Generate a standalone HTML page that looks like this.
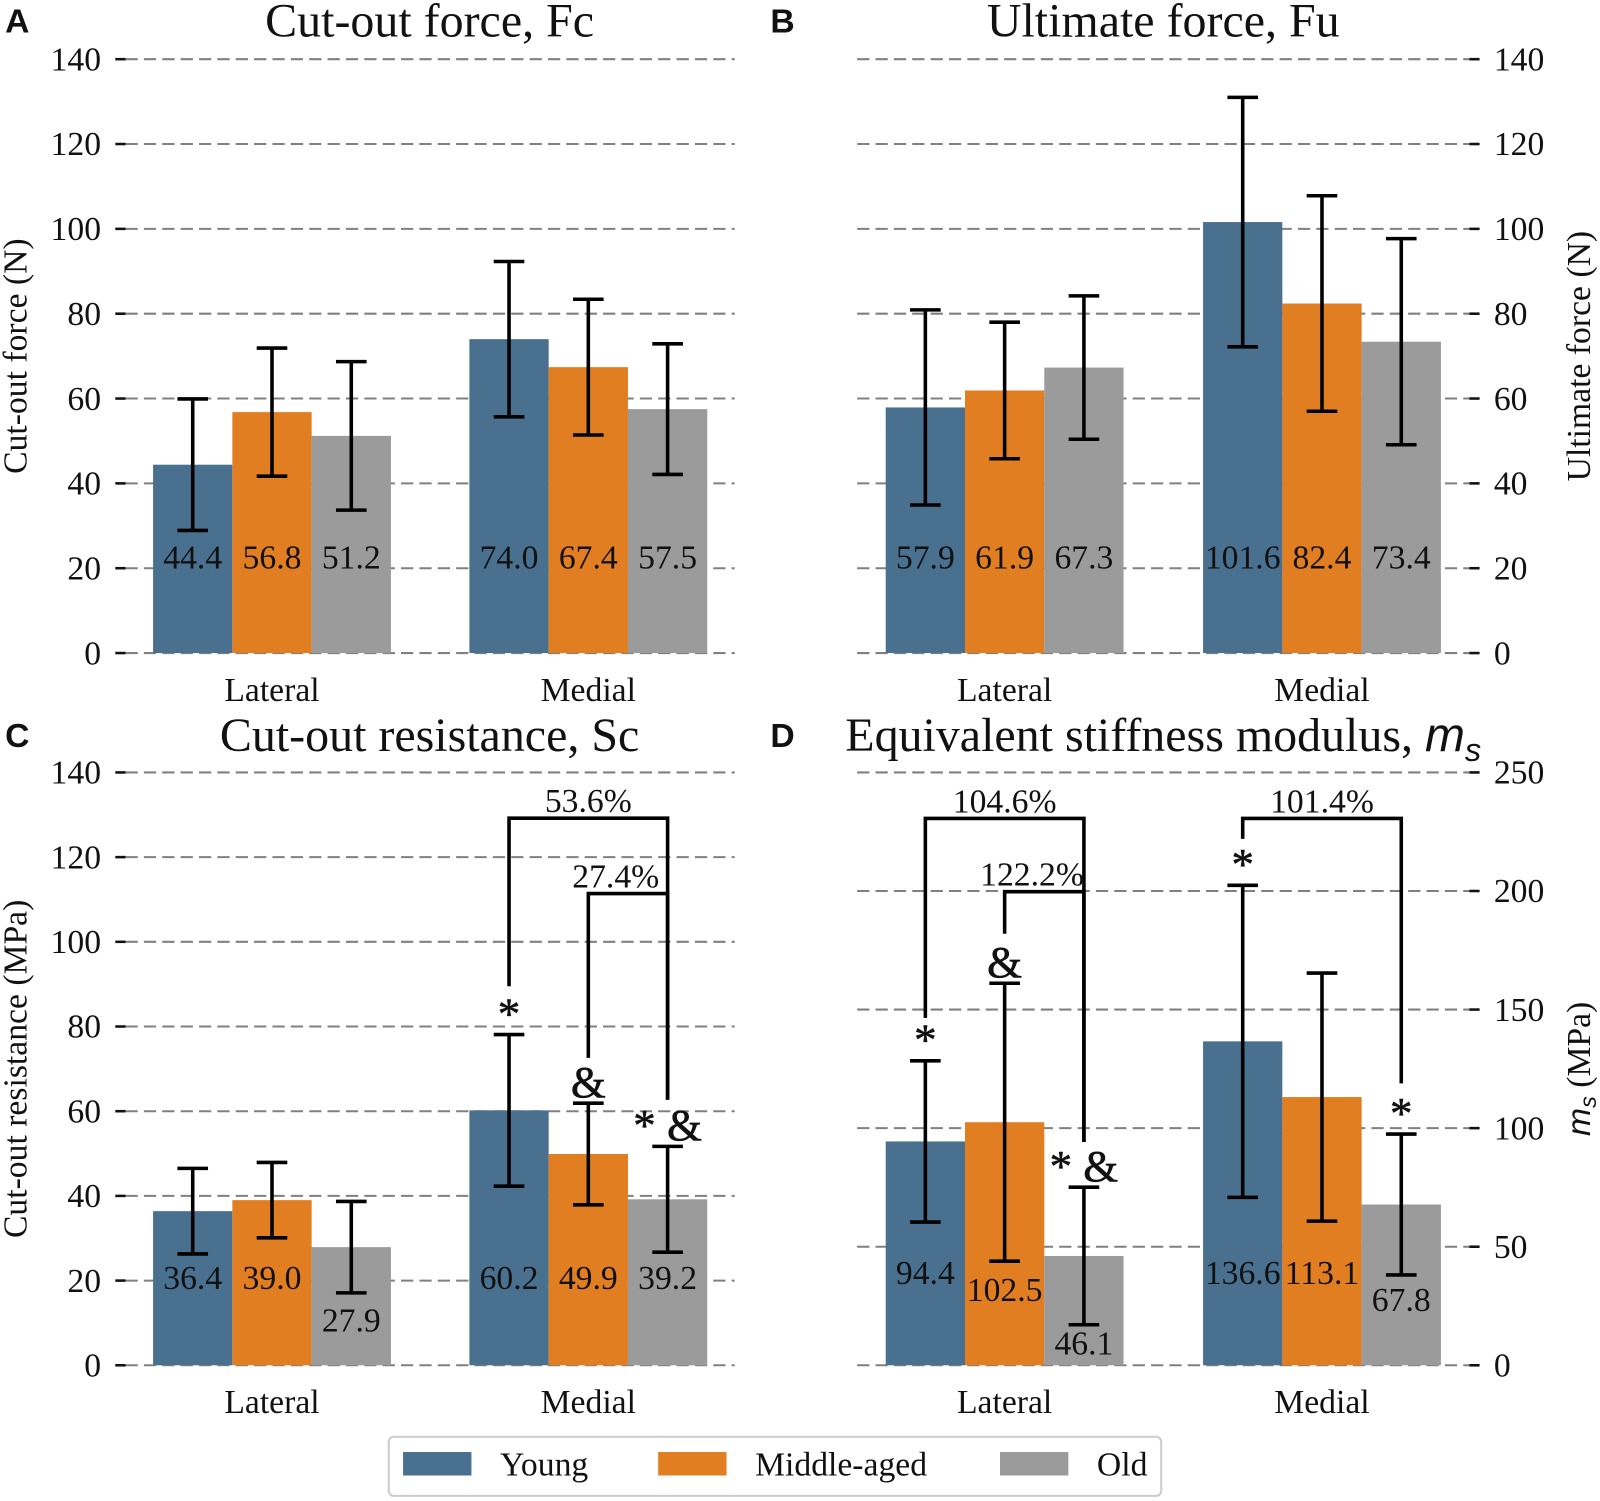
<!DOCTYPE html>
<html><head><meta charset="utf-8"><style>
html,body{margin:0;padding:0;background:#fff}
svg{display:block}
text{font-family:"Liberation Serif",serif;fill:#111}
.lt{font-family:"Liberation Sans",sans-serif;font-weight:bold}
</style></head><body>
<svg id="chart" width="1600" height="1501" viewBox="0 0 1568 1471" xmlns="http://www.w3.org/2000/svg"></svg>
<script>
const categories = ["Lateral", "Medial"];
const groups = ["Young", "Middle-aged", "Old"];
const colors = ["#4a7090", "#e27e22", "#9b9b9b"];
// Panel A: Cut-out force
const fcMeans = [[44.4, 56.8, 51.2], [74.0, 67.4, 57.5]];
const fcErr = [[15.5, 15.1, 17.5], [18.3, 16.0, 15.4]];
const fcLabelAt = [[22.6, 22.6, 22.6], [22.6, 22.6, 22.6]];
// Panel B: Ultimate force
const fuMeans = [[57.9, 61.9, 67.3], [101.6, 82.4, 73.4]];
const fuErr = [[23.0, 16.1, 16.9], [29.4, 25.4, 24.3]];
const fuLabelAt = [[22.6, 22.6, 22.6], [22.6, 22.6, 22.6]];
// Panel C: Cut-out resistance
const scMeans = [[36.4, 39.0, 27.9], [60.2, 49.9, 39.2]];
const scErr = [[10.1, 8.9, 10.8], [17.9, 12.0, 12.5]];
const scLabelAt = [[20.7, 20.7, 10.6], [20.7, 20.7, 20.7]];
// Panel D: Equivalent stiffness modulus
const msMeans = [[94.4, 102.5, 46.1], [136.6, 113.1, 67.8]];
const msErr = [[34.0, 58.6, 29.0], [65.8, 52.3, 29.7]];
const msLabelAt = [[39, 31.8, 9.2], [39, 39, 27.6]];
const ticksABC = [0, 20, 40, 60, 80, 100, 120, 140];
const ticksD = [0, 50, 100, 150, 200, 250];
// brackets: [group, barFrom, barTo, level, fromBottom, toBottom, label]
const scBrackets = [[1, 0, 2, 129.2, 89.5, 62.7, "53.6%"], [1, 1, 2, 111.4, 72.6, 62.7, "27.4%"]];
const msBrackets = [[0, 0, 2, 230.6, 146.5, 94.2, "104.6%"], [0, 1, 2, 199.7, 182, 94.2, "122.2%"], [1, 0, 2, 230.6, 222, 118.9, "101.4%"]];
// markers: [group, bar, text]
const scMarks = [[1, 0, "*"], [1, 1, "&"], [1, 2, "*  &"]];
const msMarks = [[0, 0, "*"], [0, 1, "&"], [0, 2, "*  &"], [1, 0, "*"], [1, 2, "*"]];

const NS = "http://www.w3.org/2000/svg";
const svg = document.getElementById("chart");
function el(tag, attrs, parent, txt) {
  const e = document.createElementNS(NS, tag);
  for (const k in attrs) e.setAttribute(k, attrs[k]);
  if (txt !== undefined) e.textContent = txt;
  (parent || svg).appendChild(e);
  return e;
}
const BW = 77.7;
const FS = 33;
function panel(cfg) {
  const g = el("g", {});
  
  
  const y = v => cfg.y0 - (v / cfg.max) * (cfg.y0 - cfg.yTop);
  const bx = (gi, bi) => cfg.groupX[gi] + bi * BW;
  cfg.ticks.forEach(t => {
    const gl = el("line", {x1: cfg.gx1, x2: cfg.gx2, y1: y(t), y2: y(t), stroke: "#808080", "stroke-width": 2, "stroke-dasharray": "12,6"}, g);
    
    
    const tx = cfg.right ? cfg.gx2 : cfg.gx1 - 10;
    el("line", {x1: tx, x2: tx + 10, y1: y(t), y2: y(t), stroke: "#111", "stroke-width": 2.5}, g);
    const lab = el("text", {x: cfg.right ? cfg.gx2 + 24 : cfg.gx1 - 24, y: y(t) + 11, "font-size": FS, "text-anchor": cfg.right ? "start" : "end"}, g, t);
    
    
  });
  categories.forEach((c, gi) => {
    const t = el("text", {x: cfg.groupX[gi] + 1.5 * BW, y: cfg.y0 + 47, "font-size": FS, "text-anchor": "middle"}, g, c);
    
    
    cfg.means[gi].forEach((m, bi) => {
      const r = el("rect", {x: bx(gi, bi), y: y(m), width: BW, height: y(0) - y(m), fill: colors[bi]}, g);
      
      
    });
  });
  categories.forEach((c, gi) => {
    cfg.means[gi].forEach((m, bi) => {
      const cx = bx(gi, bi) + BW / 2, e = cfg.err[gi][bi];
      const eb = el("path", {d: `M${cx},${y(m + e)}V${y(m - e)}M${cx - 15},${y(m + e)}H${cx + 15}M${cx - 15},${y(m - e)}H${cx + 15}`, stroke: "#000", "stroke-width": 3.5, fill: "none"}, g);
      
      
      const v = el("text", {x: cx, y: y(cfg.labelAt[gi][bi]) + 11, "font-size": FS, "text-anchor": "middle"}, g, m.toFixed(1));
      
      
    });
  });
  (cfg.brackets || []).forEach(b => {
    const x1 = bx(b[0], b[1]) + BW / 2, x2 = bx(b[0], b[2]) + BW / 2;
    const p = el("path", {d: `M${x1},${y(b[4])}V${y(b[3])}H${x2}V${y(b[5])}`, stroke: "#000", "stroke-width": 3.5, fill: "none"}, g);
    
    
    const t = el("text", {x: (x1 + x2) / 2 - (b[1] === 1 ? 12 : 0), y: y(b[3]) - 6, "font-size": FS, "text-anchor": "middle"}, g, b[6]);
    
    
  });
  (cfg.marks || []).forEach(mk => {
    const cx = bx(mk[0], mk[1]) + BW / 2, top = cfg.means[mk[0]][mk[1]] + cfg.err[mk[0]][mk[1]];
    const t = el("text", {x: cx, y: y(top) - 6, "font-size": 44, "text-anchor": "middle", "xml:space": "preserve", stroke: "#111", "stroke-width": 0.6}, g, mk[2]);
    
    
  });
  const tt = el("text", {x: cfg.titleX, y: cfg.titleY, "font-size": 47, "text-anchor": "middle"}, g);
  
  
  tt.innerHTML = cfg.title;
  const L = el("text", {x: cfg.letterX, y: cfg.titleY - 4, "font-size": 33, class: "lt"}, g, cfg.letter);
  
  
  const ax = cfg.right ? 1558 : 26, ay = (cfg.y0 + cfg.yTop) / 2;
  const yt = el("text", {x: ax, y: ay, "font-size": FS, "text-anchor": "middle", transform: `rotate(-90 ${ax} ${ay})`}, g);
  
  
  yt.innerHTML = cfg.ytitle;
}
panel({name: "panel-a", letter: "A", letterX: 5, title: "Cut-out force, Fc", titleX: 421, titleY: 36, means: fcMeans, err: fcErr, labelAt: fcLabelAt, ticks: ticksABC, max: 140, y0: 640, yTop: 58, gx1: 123, gx2: 720, groupX: [150, 460], ytitle: "Cut-out force (N)"});
panel({name: "panel-b", letter: "B", letterX: 755, title: "Ultimate force, Fu", titleX: 1140, titleY: 36, means: fuMeans, err: fuErr, labelAt: fuLabelAt, ticks: ticksABC, max: 140, y0: 640, yTop: 58, gx1: 840, gx2: 1440, groupX: [868, 1179], right: true, ytitle: "Ultimate force (N)"});
panel({name: "panel-c", letter: "C", letterX: 5, title: "Cut-out resistance, Sc", titleX: 421, titleY: 736, means: scMeans, err: scErr, labelAt: scLabelAt, ticks: ticksABC, max: 140, y0: 1338, yTop: 757, gx1: 123, gx2: 720, groupX: [150, 460], ytitle: "Cut-out resistance (MPa)", brackets: scBrackets, marks: scMarks});
panel({name: "panel-d", letter: "D", letterX: 755, title: 'Equivalent stiffness modulus, <tspan font-family="Liberation Sans, sans-serif" font-style="italic">m</tspan><tspan font-family="Liberation Sans, sans-serif" font-style="italic" font-size="32" dy="10">s</tspan>', titleX: 1140, titleY: 736, means: msMeans, err: msErr, labelAt: msLabelAt, ticks: ticksD, max: 250, y0: 1338, yTop: 757, gx1: 840, gx2: 1440, groupX: [868, 1179], right: true, ytitle: '<tspan font-style="italic" font-family="Liberation Sans, sans-serif">m</tspan><tspan font-size="23" font-style="italic" font-family="Liberation Sans, sans-serif" dy="6">s</tspan><tspan dy="-6"> (MPa)</tspan>', brackets: msBrackets, marks: msMarks});
const lg = el("g", {});


el("rect", {x: 381, y: 1408, width: 757, height: 58, rx: 5, fill: "#fff", stroke: "#ccc", "stroke-width": 2}, lg);
const lx = [395, 645, 980];
groups.forEach((gname, i) => {
  const s = el("rect", {x: lx[i], y: 1423, width: 67, height: 23, fill: colors[i]}, lg);
  
  
  const t = el("text", {x: lx[i] + 95, y: 1446, "font-size": FS}, lg, gname);
  
  
});
</script>
</body></html>
